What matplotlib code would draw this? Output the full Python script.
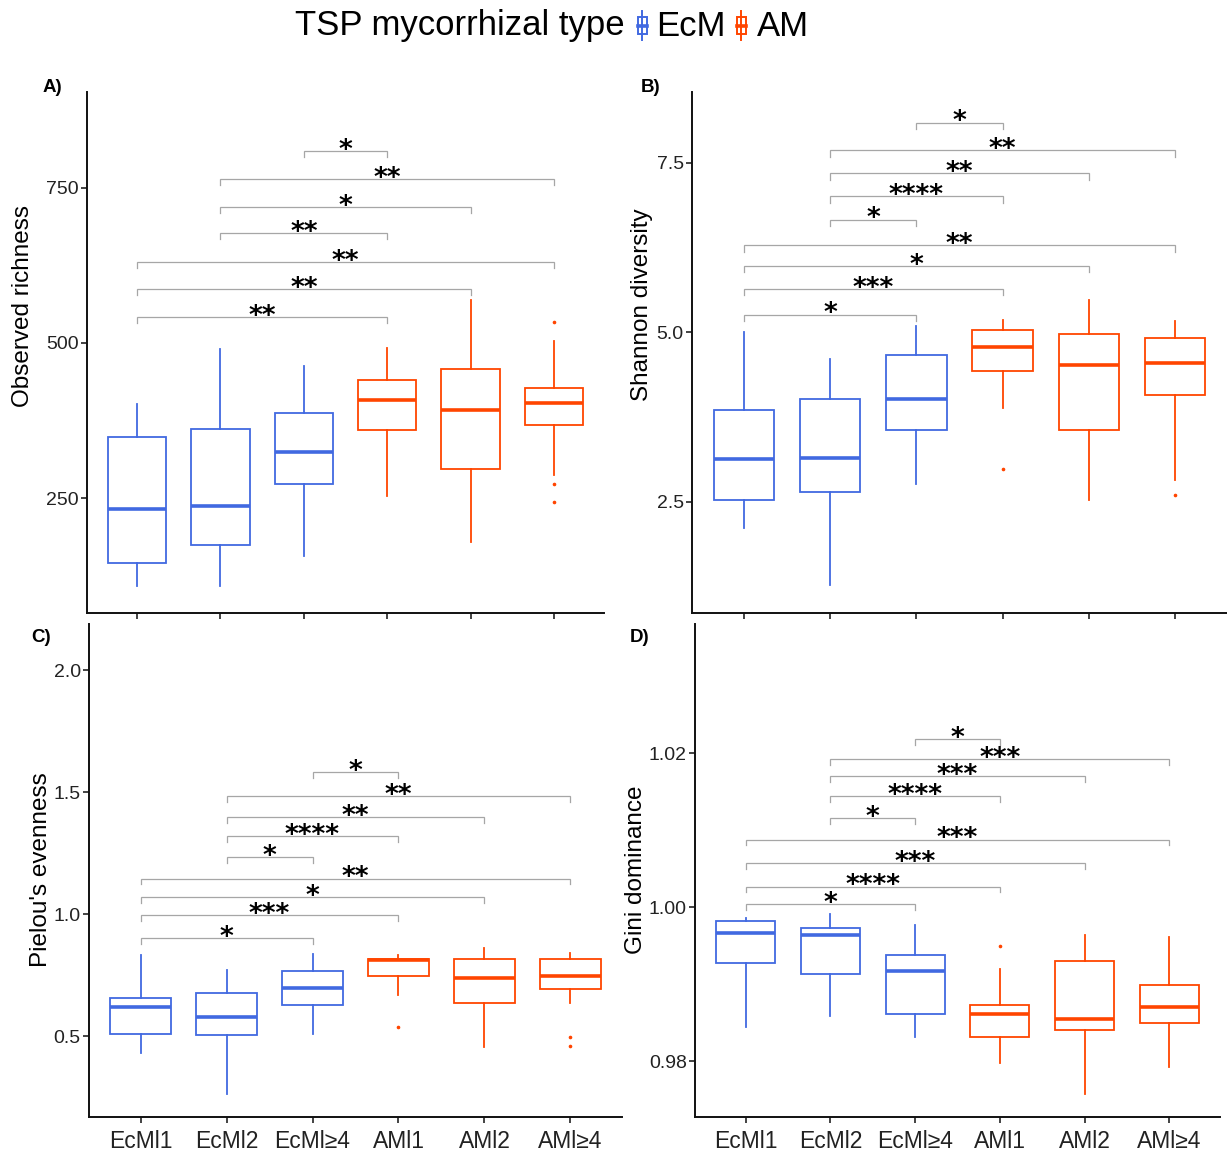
import matplotlib
matplotlib.use("Agg")
import matplotlib.pyplot as plt
from matplotlib.patches import Rectangle
from matplotlib.lines import Line2D

plt.rcParams["font.family"] = ["Liberation Sans", "DejaVu Sans"]

# ---------------------------------------------------------------- data
groups = ["EcMl1", "EcMl2", "EcMl≥4", "AMl1", "AMl2", "AMl≥4"]
group_type = ["EcM", "EcM", "EcM", "AM", "AM", "AM"]
type_colors = {"EcM": "#4169E1", "AM": "#FF4500"}

# Observed richness
rich_whislo = [109, 109, 157, 254, 180, 287]
rich_q1 = [146, 175, 272, 360, 297, 368]
rich_med = [232, 238, 324, 408, 392, 403]
rich_q3 = [348, 361, 387, 441, 458, 428]
rich_whishi = [401, 490, 463, 492, 569, 503]
rich_fliers = [[], [], [], [], [], [533, 273, 243]]

# Shannon diversity
shan_whislo = [2.12, 1.27, 2.76, 3.88, 2.53, 2.82]
shan_q1 = [2.53, 2.65, 3.56, 4.42, 3.56, 4.07]
shan_med = [3.13, 3.14, 4.02, 4.78, 4.51, 4.55]
shan_q3 = [3.85, 4.01, 4.67, 5.03, 4.97, 4.92]
shan_whishi = [5.00, 4.61, 5.09, 5.18, 5.48, 5.17]
shan_fliers = [[], [], [], [2.98], [], [2.60]]

# Pielou's evenness
piel_whislo = [0.431, 0.263, 0.511, 0.671, 0.458, 0.636]
piel_q1 = [0.512, 0.508, 0.629, 0.748, 0.636, 0.696]
piel_med = [0.622, 0.581, 0.700, 0.812, 0.741, 0.748]
piel_q3 = [0.659, 0.680, 0.769, 0.819, 0.819, 0.818]
piel_whishi = [0.833, 0.773, 0.839, 0.833, 0.864, 0.840]
piel_fliers = [[], [], [], [0.539], [], [0.497, 0.460]]

# Gini dominance
gini_whislo = [0.9845, 0.9859, 0.9831, 0.9798, 0.9758, 0.9793]
gini_q1 = [0.9927, 0.9913, 0.9862, 0.9831, 0.9840, 0.9850]
gini_med = [0.9966, 0.9964, 0.9917, 0.9861, 0.9855, 0.9870]
gini_q3 = [0.9982, 0.9973, 0.9938, 0.9873, 0.9930, 0.9899]
gini_whishi = [0.9986, 0.9991, 0.9977, 0.9920, 0.9964, 0.9961]
gini_fliers = [[], [], [], [0.9950], [], []]

# pairwise comparisons: first group, second group (1-based), bracket height, label
rich_cmp_g1 = [3, 2, 2, 2, 1, 1, 1]
rich_cmp_g2 = [4, 6, 5, 4, 6, 5, 4]
rich_cmp_y = [809, 764, 719, 677, 630, 587, 542]
rich_cmp_lab = ["*", "**", "*", "**", "**", "**", "**"]

shan_cmp_g1 = [3, 2, 2, 2, 2, 1, 1, 1, 1]
shan_cmp_g2 = [4, 6, 5, 4, 3, 6, 5, 4, 3]
shan_cmp_y = [8.09, 7.68, 7.34, 7.00, 6.66, 6.28, 5.98, 5.64, 5.26]
shan_cmp_lab = ["*", "**", "**", "****", "*", "**", "*", "***", "*"]

piel_cmp_g1 = [3, 2, 2, 2, 2, 1, 1, 1, 1]
piel_cmp_g2 = [4, 6, 5, 4, 3, 6, 5, 4, 3]
piel_cmp_y = [1.582, 1.486, 1.398, 1.321, 1.234, 1.147, 1.073, 0.996, 0.903]
piel_cmp_lab = ["*", "**", "**", "****", "*", "**", "*", "***", "*"]

gini_cmp_g1 = [3, 2, 2, 2, 2, 1, 1, 1, 1]
gini_cmp_g2 = [4, 6, 5, 4, 3, 6, 5, 4, 3]
gini_cmp_y = [1.0219, 1.0192, 1.0170, 1.0144, 1.0116, 1.0088, 1.0058, 1.0027, 1.0004]
gini_cmp_lab = ["*", "***", "***", "****", "*", "***", "***", "****", "*"]

# ---------------------------------------------------------------- layout
W, H = 1227, 1155
fig = plt.figure(figsize=(W / 100, H / 100), dpi=100)


def px_axes(left, right, top, bottom):
    return fig.add_axes([left / W, 1 - bottom / H, (right - left) / W, (bottom - top) / H])


panels = [
    dict(rect=(87, 604, 92, 613), tag="A)", tag_px=(62, 87), ylabel="Observed richness",
         stats=(rich_whislo, rich_q1, rich_med, rich_q3, rich_whishi, rich_fliers),
         cmp=(rich_cmp_g1, rich_cmp_g2, rich_cmp_y, rich_cmp_lab),
         ylim=(65, 904), yticks=[250, 500, 750], fmt="{:.0f}",
         xlabels=False, ylab_pos=(-0.1025, 0.589)),
    dict(rect=(692, 1227, 92, 613), tag="B)", tag_px=(660, 87), ylabel="Shannon diversity",
         stats=(shan_whislo, shan_q1, shan_med, shan_q3, shan_whishi, shan_fliers),
         cmp=(shan_cmp_g1, shan_cmp_g2, shan_cmp_y, shan_cmp_lab),
         ylim=(0.86, 8.54), yticks=[2.5, 5.0, 7.5], fmt="{:.1f}",
         xlabels=False, ylab_pos=(-0.073, 0.591)),
    dict(rect=(89, 622, 624, 1117), tag="C)", tag_px=(51, 637), ylabel="Pielou's evenness",
         stats=(piel_whislo, piel_q1, piel_med, piel_q3, piel_whishi, piel_fliers),
         cmp=(piel_cmp_g1, piel_cmp_g2, piel_cmp_y, piel_cmp_lab),
         ylim=(0.17, 2.19), yticks=[0.5, 1.0, 1.5, 2.0], fmt="{:.1f}",
         xlabels=True, ylab_pos=(-0.069, 0.501)),
    dict(rect=(695, 1220, 624, 1117), tag="D)", tag_px=(649, 637), ylabel="Gini dominance",
         stats=(gini_whislo, gini_q1, gini_med, gini_q3, gini_whishi, gini_fliers),
         cmp=(gini_cmp_g1, gini_cmp_g2, gini_cmp_y, gini_cmp_lab),
         ylim=(0.97276, 1.0368), yticks=[0.98, 1.00, 1.02], fmt="{:.2f}",
         xlabels=True, ylab_pos=(-0.091, 0.501)),
]

positions = list(range(1, len(groups) + 1))
bracket_color = "#A6A6A6"

# overlay in pixel units for the legend and panel tags
over = fig.add_axes([0, 0, 1, 1], zorder=-1)
over.set_xlim(0, W)
over.set_ylim(H, 0)
over.axis("off")

for p in panels:
    ax = px_axes(*p["rect"])
    whislo, q1, med, q3, whishi, fliers = p["stats"]
    for i in range(len(groups)):
        col = type_colors[group_type[i]]
        st = [dict(whislo=whislo[i], q1=q1[i], med=med[i], q3=q3[i],
                   whishi=whishi[i], fliers=fliers[i])]
        ax.bxp(st, positions=[positions[i]], widths=0.7, patch_artist=True,
               showcaps=False,
               boxprops=dict(facecolor="white", edgecolor=col, linewidth=1.3),
               whiskerprops=dict(color=col, linewidth=1.3),
               medianprops=dict(color=col, linewidth=2.6, solid_capstyle="butt"),
               flierprops=dict(marker="o", markersize=1.6, markerfacecolor=col,
                               markeredgecolor=col, linestyle="none"))

    y0, y1 = p["ylim"]
    tip = 0.012 * (y1 - y0)
    g1, g2, ys, labs = p["cmp"]
    for a, b, y, lab in zip(g1, g2, ys, labs):
        ax.plot([a, a, b, b], [y - tip, y, y, y - tip], color=bracket_color,
                lw=0.9, solid_joinstyle="miter", zorder=3)
        ax.annotate(lab, xy=((a + b) / 2, y), xytext=(0, -5.0),
                    textcoords="offset points", ha="center", va="baseline",
                    fontsize=19, family="DejaVu Sans", fontweight="bold",
                    color="black", zorder=4)

    ax.set_xlim(0.4, 6.6)
    ax.set_ylim(y0, y1)
    ax.set_xticks(positions)
    if p["xlabels"]:
        ax.set_xticklabels(groups, fontsize=16.5, color="#222222")
    else:
        ax.set_xticklabels([])
    ax.set_yticks(p["yticks"])
    ax.set_yticklabels([p["fmt"].format(v) for v in p["yticks"]],
                       fontsize=14, color="#222222")
    ax.tick_params(axis="both", length=4, width=1.2, color="#222222", pad=2)
    ax.tick_params(axis="x", pad=5.5)
    for s in ("top", "right"):
        ax.spines[s].set_visible(False)
    for s in ("left", "bottom"):
        ax.spines[s].set_linewidth(1.4)
        ax.spines[s].set_color("#111111")
    ax.set_ylabel(p["ylabel"], fontsize=17.5)
    ax.yaxis.set_label_coords(*p["ylab_pos"])
    over.text(p["tag_px"][0], p["tag_px"][1], p["tag"], fontsize=13.5,
              fontweight="bold", ha="right", va="center")

# ---------------------------------------------------------------- legend
over.text(295, 26, "TSP mycorrhizal type", fontsize=25, ha="left", va="center")
for kx, tx, kind in [(642, 656, "EcM"), (741, 757, "AM")]:
    col = type_colors[kind]
    over.add_line(Line2D([kx, kx], [11, 40], color=col, lw=1.4))
    over.add_patch(Rectangle((kx - 4.5, 17), 9, 17, facecolor="white",
                             edgecolor=col, lw=1.4))
    over.add_line(Line2D([kx - 4.5, kx + 4.5], [25.5, 25.5], color=col, lw=2.6))
    over.text(tx, 26, kind, fontsize=25, ha="left", va="center")

fig.savefig("out.png", dpi=100)
